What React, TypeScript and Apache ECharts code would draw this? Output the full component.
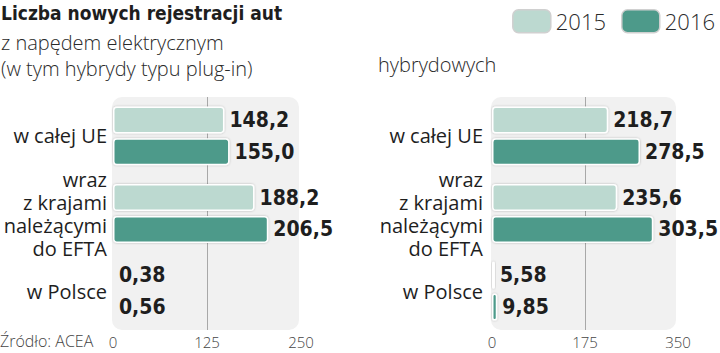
import React, { useEffect, useRef } from "react";
import * as echarts from "echarts";

const categories = ["w całej UE", "wraz\nz krajami\nnależącymi\ndo EFTA", "w Polsce"];
const seriesNames = ["2015", "2016"];
const electric2015 = [148.2, 188.2, 0.38];
const electric2016 = [155.0, 206.5, 0.56];
const hybrid2015 = [218.7, 235.6, 5.58];
const hybrid2016 = [278.5, 303.5, 9.85];
const leftTicks = { min: 0, max: 250, interval: 125 };
const rightTicks = { min: 0, max: 350, interval: 175 };

const LIGHT = "#bcd9d0";
const DARK = "#4d9a8a";
const LABEL_FONT = "'DejaVu Sans Condensed', 'DejaVu Sans', sans-serif";
const TEXT_FONT = "'Open Sans', 'Noto Sans', sans-serif";

const fmt = (v: number) => (v < 10 ? v.toFixed(2) : v.toFixed(1)).replace(".", ",");

export default function App() {
  const ref = useRef<HTMLDivElement>(null);
  useEffect(() => {
    if (!ref.current) return;
    const chart = echarts.init(ref.current, undefined, { renderer: "svg" });
    const grids = [
      { left: 113, top: 97, width: 188, height: 233 },
      { left: 492, top: 97, width: 186, height: 233 },
    ];
    const mkBar = (name: string, data: number[], idx: number, color: string) => ({
      type: "bar",
      name,
      data,
      xAxisIndex: idx,
      yAxisIndex: idx,
      barWidth: 27,
      barGap: "18%",
      z: 3,
      itemStyle: {
        color,
        borderColor: "#ffffff",
        borderWidth: 1.5,
        borderRadius: 3,
        shadowColor: "rgba(0,0,0,0.25)",
        shadowBlur: 2,
      },
      label: {
        show: true,
        position: "right",
        distance: 5,
        formatter: (p: any) => fmt(p.value),
        fontFamily: LABEL_FONT,
        fontWeight: "bold",
        fontSize: 21,
        color: "#1e1e1e",
      },
    });
    const mkX = (idx: number, t: { min: number; max: number; interval: number }) => ({
      type: "value",
      gridIndex: idx,
      min: t.min,
      max: t.max,
      interval: t.interval,
      axisLine: { show: false },
      axisTick: { show: false },
      axisLabel: { fontFamily: TEXT_FONT, fontWeight: 300, fontSize: 15, color: "#444", margin: 4 },
      splitLine: { show: true, lineStyle: { color: ["transparent", "#a8a8a8", "transparent"], width: 1 } },
    });
    const mkY = (idx: number, margin: number) => ({
      type: "category",
      gridIndex: idx,
      data: categories,
      inverse: true,
      axisLine: { show: false },
      axisTick: { show: false },
      axisLabel: {
        fontFamily: TEXT_FONT,
        fontSize: 20,
        lineHeight: 23,
        color: "#1e1e1e",
        margin,
        align: "right",
      },
    });
    chart.setOption({
      animation: false,
      title: [
        {
          text: "Liczba nowych rejestracji aut",
          left: 1,
          top: 3,
          padding: 0,
          textStyle: { fontFamily: LABEL_FONT, fontWeight: "bold", fontSize: 19, color: "#1e1e1e" },
        },
        {
          text: "z napędem elektrycznym\n(w tym hybrydy typu plug-in)",
          left: 1,
          top: 29,
          padding: 0,
          textStyle: { fontFamily: TEXT_FONT, fontWeight: 300, fontSize: 20, lineHeight: 26, color: "#2a2a2a" },
        },
        {
          text: "hybrydowych",
          left: 378,
          top: 51,
          padding: 0,
          textStyle: { fontFamily: TEXT_FONT, fontWeight: 300, fontSize: 20, lineHeight: 26, color: "#2a2a2a" },
        },
      ],
      legend: {
        data: seriesNames,
        right: 0,
        top: 4,
        itemWidth: 38,
        itemHeight: 23,
        itemGap: 15,
        icon: "roundRect",
        textStyle: { fontFamily: TEXT_FONT, fontWeight: 300, fontSize: 22, color: "#2a2a2a" },
        itemStyle: { borderColor: "#d0d0d0", borderWidth: 1.5 },
      },
      graphic: [
        {
          type: "rect",
          z: -10,
          shape: { x: 112, y: 97, width: 187, height: 233, r: 10 },
          style: { fill: "#f1f1f1" },
        },
        {
          type: "rect",
          z: -10,
          shape: { x: 491, y: 97, width: 185, height: 233, r: 10 },
          style: { fill: "#f1f1f1" },
        },
        {
          type: "text",
          left: 0,
          top: 333,
          style: { text: "Źródło: ACEA", fontFamily: TEXT_FONT, fontWeight: 300, fontSize: 16, fill: "#444" },
        },
      ],
      grid: grids,
      xAxis: [mkX(0, leftTicks), mkX(1, rightTicks)],
      yAxis: [mkY(0, 6), mkY(1, 9)],
      series: [
        mkBar(seriesNames[0], electric2015, 0, LIGHT),
        mkBar(seriesNames[1], electric2016, 0, DARK),
        mkBar(seriesNames[0], hybrid2015, 1, LIGHT),
        mkBar(seriesNames[1], hybrid2016, 1, DARK),
      ],
    });
    return () => chart.dispose();
  }, []);
  return <div ref={ref} style={{ width: 720, height: 353, position: "absolute", left: 0, top: 0 }} />;
}
